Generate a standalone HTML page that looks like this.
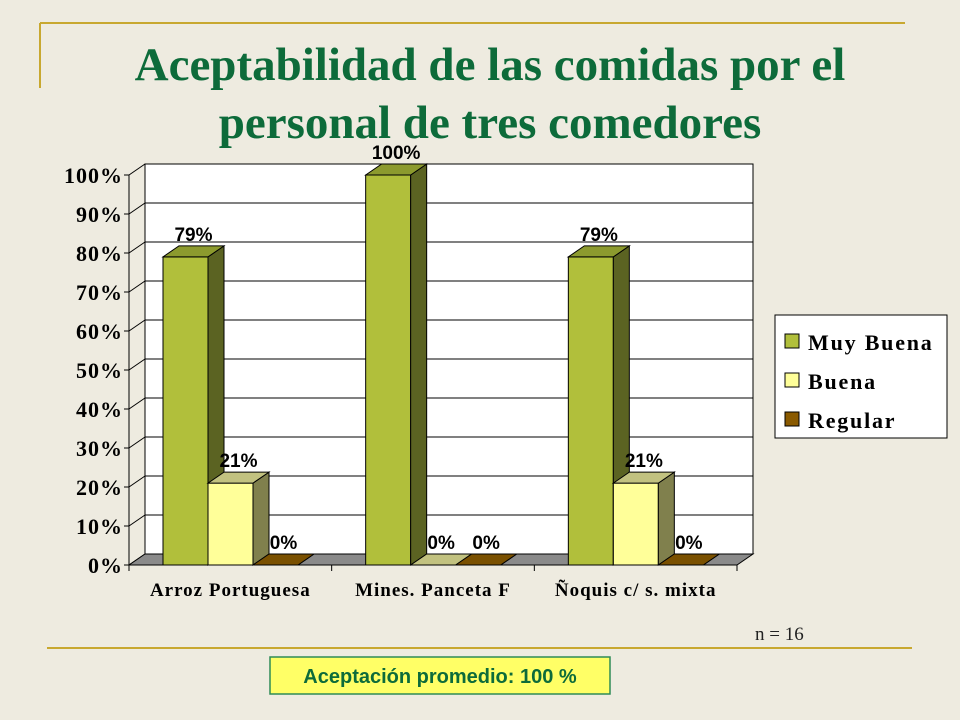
<!DOCTYPE html>
<html><head><meta charset="utf-8"><style>
body{margin:0;width:960px;height:720px;background:#eeebe0;position:relative;overflow:hidden;font-family:"Liberation Sans",sans-serif}
#title{position:absolute;left:40px;top:36px;width:900px;text-align:center;font:bold 47px/58px "Liberation Serif",serif;color:#0d6b3a}
svg{position:absolute;left:0;top:0}
</style></head><body>
<div id="title">Aceptabilidad de las comidas por el<br>personal de tres comedores</div>
<svg id="c" width="960" height="720"></svg>
<script>
const categories=["Arroz Portuguesa","Mines. Panceta F","Ñoquis c/ s. mixta"];
const seriesNames=["Muy Buena","Buena","Regular"];
const muyBuena=[79,100,79];
const buena=[21,0,21];
const regular=[0,0,0];
const ticks=[0,10,20,30,40,50,60,70,80,90,100];
const series=[muyBuena,buena,regular];
const colors=[["#b1bf3b","#5b6322","#8c9a2e"],["#ffff99","#80804d","#c2c280"],["#8a5a00","#5a3a00","#7a5000"]];
const svg=document.getElementById('c');const NS="http://www.w3.org/2000/svg";
function mk(t,a,p){const e=document.createElementNS(NS,t);for(const k in a)e.setAttribute(k,a[k]);(p||svg).appendChild(e);return e;}
const X0=129,X1=737,Y0=565,H=390,DX=16,DY=-11;
const y=v=>Y0-v/100*H;
const gw=(X1-X0)/categories.length, bw=45, off=34;
let l=mk('line',{x1:40,y1:23,x2:905,y2:23,stroke:'#c8a830','stroke-width':2});
l=mk('line',{x1:40,y1:23,x2:40,y2:88,stroke:'#c8a830','stroke-width':2});
l=mk('line',{x1:47,y1:648,x2:912,y2:648,stroke:'#c8a830','stroke-width':2});
let w=mk('rect',{x:X0+DX,y:y(100)+DY,width:X1-X0,height:H,fill:'#fff',stroke:'#000'});

ticks.forEach(t=>{
 const g=mk('line',{x1:X0+DX,y1:y(t)+DY,x2:X1+DX,y2:y(t)+DY,stroke:'#000'});
 
 const s=mk('line',{x1:X0,y1:y(t),x2:X0+DX,y2:y(t)+DY,stroke:'#000'});
 
 const tk=mk('line',{x1:X0-5,y1:y(t),x2:X0,y2:y(t),stroke:'#000'});
 
 const tx=mk('text',{x:X0-6,y:y(t)+8,'text-anchor':'end','font-family':'Liberation Serif, serif','font-size':22,'font-weight':'bold',fill:'#000','letter-spacing':1});
 tx.textContent=t+'%';
});
let f=mk('polygon',{points:`${X0},${Y0} ${X1},${Y0} ${X1+DX},${Y0+DY} ${X0+DX},${Y0+DY}`,fill:'#8a8a8a',stroke:'#000'});

let ax=mk('line',{x1:X0,y1:Y0,x2:X0,y2:y(100),stroke:'#000'});
ax=mk('line',{x1:X0,y1:Y0,x2:X1,y2:Y0,stroke:'#000'});
categories.forEach((c,i)=>{
 const gx=X0+i*gw;
 const tk=mk('line',{x1:gx,y1:Y0,x2:gx,y2:Y0+6,stroke:'#000'});
 series.forEach((s,j)=>{
  const v=s[i],bx=gx+off+j*bw,top=y(v),col=colors[j];
  const g=mk('g',{});
  if(v>0)mk('rect',{x:bx,y:top,width:bw,height:Y0-top,fill:col[0],stroke:'#000'},g);
  mk('polygon',{points:`${bx+bw},${Y0} ${bx+bw+DX},${Y0+DY} ${bx+bw+DX},${top+DY} ${bx+bw},${top}`,fill:col[1],stroke:'#000'},g);
  mk('polygon',{points:`${bx},${top} ${bx+DX},${top+DY} ${bx+bw+DX},${top+DY} ${bx+bw},${top}`,fill:col[2],stroke:'#000'},g);
  const t=mk('text',{x:bx+bw/2+DX/2,y:top+DY-5,'text-anchor':'middle','font-size':19,'font-weight':'bold',fill:'#000'});
  t.textContent=v+'%';
 });
 const t=mk('text',{x:gx+gw/2,y:Y0+31,'text-anchor':'middle','font-family':'Liberation Serif, serif','font-size':19,'font-weight':'bold',fill:'#000','letter-spacing':1});
 t.textContent=c;
});
let tk=mk('line',{x1:X1,y1:Y0,x2:X1,y2:Y0+6,stroke:'#000'});
const lg=mk('g',{});
mk('rect',{x:775,y:315,width:172,height:123,fill:'#fff',stroke:'#000'},lg);
seriesNames.forEach((n,j)=>{
 const e=mk('g',{},lg);
 mk('rect',{x:785,y:334+j*39,width:14,height:14,fill:colors[j][0],stroke:'#000'},e);
 const t=mk('text',{x:808,y:350+j*39,'font-family':'Liberation Serif, serif','font-size':22,'font-weight':'bold',fill:'#000','letter-spacing':1.8},e);t.textContent=n;
});
let n=mk('text',{x:755,y:640,'font-family':'Liberation Serif, serif','font-size':19,fill:'#222'});n.textContent='n = 16';
const bx=mk('g',{});
mk('rect',{x:270,y:657,width:340,height:37,fill:'#ffff66',stroke:'#2e8b57','stroke-width':1.5},bx);
const at=mk('text',{x:440,y:683,'text-anchor':'middle','font-size':20,'font-weight':'bold',fill:'#0d6b3a'},bx);at.textContent='Aceptación promedio: 100 %';
</script>
</body></html>
